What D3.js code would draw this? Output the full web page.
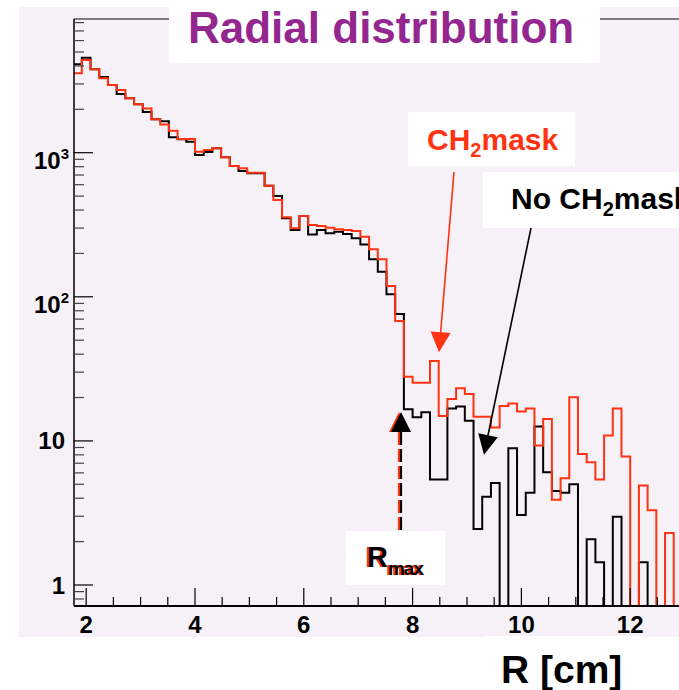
<!DOCTYPE html>
<html>
<head>
<meta charset="utf-8">
<script src="https://cdn.jsdelivr.net/npm/d3@7"></script>
<style>
  body { margin: 0; background: #fff; }
  svg { display: block; font-family: "Liberation Sans", Arial, Helvetica, sans-serif; font-weight: bold; }
</style>
</head>
<body>
<div id="chart"></div>
<script>
// histogram definition (bin low edge of first bin, bin width)
const histLow = 1.76;
const histBinWidth = 0.16;

// CH2 mask (red)
const countsMask = [
  3560, 4400, 3790, 3280, 2950, 2720, 2390, 2170, 2030, 1710,
  1570, 1420, 1245, 1245, 1016, 1044, 1073, 929, 809, 780,
  727, 727, 590, 470, 356, 299, 364, 315, 310, 302,
  294, 291, 286, 261, 214, 182, 119, 68, 27.9, 25.3,
  25.3, 35.8, 14.9, 19.5, 23.2, 21.2, 14.7, 14.7, 12.4, 17.5,
  18.2, 16.0, 16.8, 9.3, 14.2, 3.9, 5.5, 20.1, 8.1, 7.1,
  5.4, 10.9, 16.8, 7.8, 0, 4.9, 3.3, 0, 2.3, 0
];

// no CH2 mask (black)
const countsNoMask = [
  4110, 4560, 3790, 3350, 2950, 2560, 2390, 2170, 1920, 1710,
  1650, 1280, 1240, 1190, 964, 1011, 1073, 929, 809, 746,
  719, 719, 590, 501, 351, 291, 364, 271, 291, 276,
  283, 273, 255, 231, 182, 149, 104, 76, 16.6, 14.6,
  15.8, 5.4, 5.4, 16.8, 17.3, 13.8, 2.45, 4.1, 5.1, 0,
  8.9, 3.06, 4.37, 12.6, 6.05, 4.5, 4.37, 5.0, 0, 2.08,
  1.44, 0, 2.98, 0, 0, 1.44, 0, 0, 0, 0
];

const xTickValues = [2, 4, 6, 8, 10, 12];
const xMinorValues = [2.5, 3, 3.5, 4.5, 5, 5.5, 6.5, 7, 7.5, 8.5, 9, 9.5, 10.5, 11, 11.5, 12.5];
const yTickValues = [1, 10, 100, 1000];
const yTickBase = ["1", "10", "10", "10"];
const yTickExp = ["", "", "2", "3"];

const W = 679, H = 690;
const RED = "#ff3311", PURPLE = "#93278f";

const svg = d3.select("#chart").append("svg")
  .attr("width", W).attr("height", H);

const fLeft = 74, fRight = 679, fTop = 19, fBottom = 606;

const x = d3.scaleLinear().domain([1.776, 12.897]).range([fLeft, fRight]);
const y = d3.scaleLog().domain([0.715, 8470]).range([fBottom, fTop]);

// pad background
svg.append("rect").attr("x", 19).attr("y", 7).attr("width", W - 19).attr("height", 630)
  .attr("fill", "#f6f1f6");

// top frame line
svg.append("line").attr("x1", fLeft).attr("x2", fRight).attr("y1", fTop).attr("y2", fTop)
  .attr("stroke", "#555").attr("stroke-width", 1.5);

// clip for histograms
svg.append("clipPath").attr("id", "frame")
  .append("rect").attr("x", fLeft).attr("y", fTop).attr("width", fRight - fLeft).attr("height", fBottom - fTop);

function histPoints(counts) {
  const pts = counts.map((c, i) => ({ x: histLow + i * histBinWidth, c: c }));
  pts.push({ x: histLow + counts.length * histBinWidth, c: counts[counts.length - 1] });
  return pts;
}

const step = d3.line()
  .curve(d3.curveStepAfter)
  .x(d => x(d.x))
  .y(d => d.c > 0 ? y(d.c) : fBottom);

const hg = svg.append("g").attr("clip-path", "url(#frame)")
  .attr("fill", "none").attr("stroke-width", 2).attr("stroke-linejoin", "miter");

hg.append("path").attr("d", step(histPoints(countsNoMask))).attr("stroke", "#000");
hg.append("path").attr("d", step(histPoints(countsMask))).attr("stroke", RED);

// axes lines
svg.append("line").attr("x1", fLeft).attr("x2", fLeft).attr("y1", fTop).attr("y2", fBottom)
  .attr("stroke", "#000").attr("stroke-width", 1.5);
svg.append("line").attr("x1", fLeft).attr("x2", fRight).attr("y1", fBottom).attr("y2", fBottom)
  .attr("stroke", "#000").attr("stroke-width", 2);

// x ticks
const xt = svg.append("g").attr("stroke", "#000").attr("stroke-width", 1.2);
xt.selectAll("line.major").data(xTickValues).join("line").attr("class", "major")
  .attr("x1", d => x(d)).attr("x2", d => x(d)).attr("y1", fBottom).attr("y2", fBottom - 18);
xt.selectAll("line.minor").data(xMinorValues).join("line").attr("class", "minor")
  .attr("x1", d => x(d)).attr("x2", d => x(d)).attr("y1", fBottom).attr("y2", fBottom - 9);

svg.append("g").selectAll("text").data(xTickValues).join("text")
  .attr("x", d => x(d)).attr("y", 633)
  .attr("text-anchor", "middle").attr("font-size", 24)
  .text(d => d);

// y ticks (log)
const yMinor = [];
[0.1, 1, 10, 100, 1000].forEach(dec => {
  for (let k = 2; k <= 9; k++) {
    const v = dec * k;
    if (v > y.domain()[0] && v < y.domain()[1]) yMinor.push(v);
  }
});
const yt = svg.append("g").attr("stroke", "#000").attr("stroke-width", 1.2);
yt.selectAll("line.major").data(yTickValues).join("line").attr("class", "major")
  .attr("x1", fLeft).attr("x2", fLeft + 19).attr("y1", d => y(d)).attr("y2", d => y(d));
yt.selectAll("line.minor").data(yMinor).join("line").attr("class", "minor")
  .attr("x1", fLeft).attr("x2", fLeft + 10).attr("y1", d => y(d)).attr("y2", d => y(d))
  .attr("stroke", "#444");

const ylab = svg.append("g").selectAll("text").data(yTickValues).join("text")
  .attr("x", (d, i) => yTickExp[i] ? 69 : 65)
  .attr("y", (d, i) => y(d) + (yTickExp[i] ? 16 : 8.5))
  .attr("text-anchor", "end").attr("font-size", 24);
ylab.append("tspan").text((d, i) => yTickBase[i]);
ylab.filter((d, i) => yTickExp[i] !== "").append("tspan")
  .attr("font-size", 15).attr("dy", -10)
  .text(d => yTickExp[yTickValues.indexOf(d)]);

// title box
svg.append("rect").attr("x", 169).attr("y", 7).attr("width", 431).attr("height", 56).attr("fill", "#fff");
svg.append("text").attr("x", 188).attr("y", 43).attr("font-size", 44).attr("fill", PURPLE)
  .text("Radial distribution");

// CH2mask label
svg.append("rect").attr("x", 408).attr("y", 112).attr("width", 167).attr("height", 54).attr("fill", "#fff");
const t1 = svg.append("text").attr("x", 427).attr("y", 150).attr("font-size", 30).attr("fill", RED);
t1.append("tspan").text("CH");
t1.append("tspan").attr("font-size", 20).attr("dy", 7).text("2");
t1.append("tspan").attr("dy", -7).text("mask");

// No CH2mask label
svg.append("rect").attr("x", 483).attr("y", 172).attr("width", 200).attr("height", 56).attr("fill", "#fff");
const t2 = svg.append("text").attr("x", 511).attr("y", 209).attr("font-size", 30).attr("fill", "#000");
t2.append("tspan").text("No CH");
t2.append("tspan").attr("font-size", 20).attr("dy", 7).text("2");
t2.append("tspan").attr("dy", -7).text("mask");

// arrows
function arrow(x1, y1, x2, y2, color, width, dash) {
  const ang = Math.atan2(y2 - y1, x2 - x1), L = 20, Hh = 10;
  const bx = x2 - L * Math.cos(ang), by = y2 - L * Math.sin(ang);
  const g = svg.append("g");
  g.append("line").attr("x1", x1).attr("y1", y1).attr("x2", bx).attr("y2", by)
    .attr("stroke", color).attr("stroke-width", width)
    .attr("stroke-dasharray", dash || null);
  g.append("path")
    .attr("d", `M${x2},${y2}L${bx + Hh * Math.sin(ang)},${by - Hh * Math.cos(ang)}L${bx - Hh * Math.sin(ang)},${by + Hh * Math.cos(ang)}Z`)
    .attr("fill", color);
}

arrow(454, 172, x(8.485), y(41.3), RED, 1.6);
arrow(531, 228, x(9.312), y(8.0), "#000", 1.6);

// Rmax dashed arrow (red shadow + black)
const rmX = x(7.787);
arrow(rmX - 2, y(2.41), rmX - 2, y(15.9), RED, 2.2, "13,4");
arrow(rmX, y(2.41), rmX, y(15.9), "#000", 2.2, "13,4");

// Rmax label
svg.append("rect").attr("x", 346).attr("y", 531).attr("width", 99).attr("height", 54).attr("fill", "#fff");
[[RED, -2], ["#000", 0]].forEach(([c, dx]) => {
  const t = svg.append("text").attr("x", 367 + dx).attr("y", 567).attr("font-size", 29).attr("fill", c);
  t.append("tspan").text("R");
  t.append("tspan").attr("font-size", 19).attr("dy", 8).attr("letter-spacing", -1).text("max");
});

// x axis title
svg.append("rect").attr("x", 483).attr("y", 636).attr("width", 161).attr("height", 54).attr("fill", "#fff");
svg.append("text").attr("x", 501).attr("y", 683).attr("font-size", 39).attr("fill", "#000")
  .text("R [cm]");
</script>
</body>
</html>
